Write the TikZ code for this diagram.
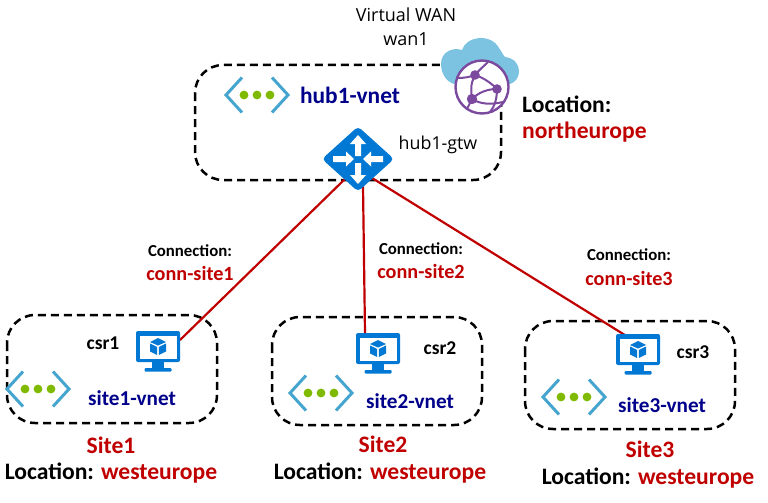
\documentclass[tikz,border=0pt]{standalone}
\usepackage{fontspec}
\setmainfont{Open Sans}
\newfontfamily\boldf{Carlito}[BoldFont=Carlito Bold]
\definecolor{azblue}{HTML}{0078D4}
\definecolor{vnetblue}{HTML}{45A5CF}
\definecolor{vnetgreen}{HTML}{7FBA00}
\definecolor{cloudblue}{HTML}{7CC3E2}
\definecolor{globepurple}{HTML}{7B4A9E}
\definecolor{navy}{HTML}{00008B}
\definecolor{redtxt}{HTML}{C00000}
\tikzset{
  region/.style={draw=black,line width=2.5pt,dash pattern=on 8pt off 5pt,rounded corners=28pt},
  conn/.style={draw=redtxt,line width=2.2pt},
  wanlab/.style={inner sep=0pt,font=\fontsize{18}{24}\selectfont,align=center,text=black},
  gtwlab/.style={inner sep=0pt,font=\fontsize{17.8}{20}\selectfont,text=black},
  vnetlab/.style={inner sep=0pt,text=navy,font=\boldf\bfseries\fontsize{21.2}{24}\selectfont},
  hublab/.style={inner sep=0pt,text=navy,font=\boldf\bfseries\fontsize{23.4}{26}\selectfont},
  csrlab/.style={inner sep=0pt,text=black,font=\boldf\bfseries\fontsize{19.5}{22}\selectfont},
  conA/.style={inner sep=0pt,text=black,font=\boldf\bfseries\fontsize{16.8}{20}\selectfont},
  conB/.style={inner sep=0pt,text=redtxt,font=\boldf\bfseries\fontsize{20.2}{24}\selectfont},
  big/.style={inner sep=0pt,font=\boldf\bfseries\fontsize{23.6}{28}\selectfont},
  anchorpt/.style={inner sep=0pt,minimum size=#1,shape=rectangle}
}
\newcommand{\vnetico}[2]{%
  \begin{scope}[shift={(#1,#2)}]
    \draw[vnetblue,line width=3pt] (-15,-17.5) -- (-31,0) -- (-15,17.5);
    \draw[vnetblue,line width=3pt] (15,-17.5) -- (31,0) -- (15,17.5);
    \fill[vnetgreen] (-13,0) circle (4.4) (0,0) circle (4.4) (13,0) circle (4.4);
  \end{scope}}
\newcommand{\monitorico}[2]{%
  \begin{scope}[shift={(#1,#2)}]
    \fill[azblue,rounded corners=2pt] (-22,-20) rectangle (22,11);
    \fill[white] (-18.5,-15.5) rectangle (18.5,7.5);
    \fill[azblue] (-6,11) rectangle (6,17);
    \fill[azblue,rounded corners=1pt] (-13.5,17) rectangle (13.5,20.5);
    \fill[azblue] (0,-13) -- (8,-9) -- (0,-5.5) -- (-8,-9) -- cycle;
    \fill[azblue] (-8,-7.5) -- (-0.8,-4) -- (-0.8,4) -- (-8,0.5) -- cycle;
    \fill[azblue] (8,-7.5) -- (0.8,-4) -- (0.8,4) -- (8,0.5) -- cycle;
  \end{scope}}
\begin{document}
\begin{tikzpicture}[x=1pt,y=-1pt]
\useasboundingbox (0,0) rectangle (768,503);
% regions
\draw[region] (195,65) rectangle (501,180);
\draw[region] (7,315) rectangle (217,423);
\draw[region] (272,317) rectangle (482,425);
\draw[region] (525,321) rectangle (735,429);
% anchors for the connectors
\node[anchorpt=1pt] (gw) at (358,159) {};
\node[anchorpt=44pt] (mon1) at (158,351) {};
\node[anchorpt=44pt] (mon2) at (378,353) {};
\node[anchorpt=44pt] (mon3) at (638,354) {};
\coordinate (gwa) at (346,178);
\coordinate (gwb) at (363,186);
\coordinate (gwc) at (372,178);
\coordinate (m1) at (180,340);
\coordinate (m2) at (365,333);
\coordinate (m3) at (628,337);
\draw[conn] (gw.center) -- (gwa) -- (m1);
\draw[conn] (gw.center) -- (gwb) -- (m2);
\draw[conn] (gw.center) -- (gwc) -- (m3);
% cloud + globe
\fill[cloudblue] (441,64) .. controls (441,52) and (452,47) .. (462,50)
  .. controls (466,36) and (491,33) .. (499,48)
  .. controls (504,55) and (503,56) .. (505,57)
  .. controls (514,58) and (519,64) .. (519,71)
  .. controls (519,80) and (512,85) .. (504,85)
  -- (460,85) .. controls (448,85) and (441,75) .. (441,64) -- cycle;
\fill[white] (482,87) circle (27);
\begin{scope}[globepurple]
  \draw[line width=2.4pt] (482,87) circle (26.5);
  \draw[line width=2pt] (475,75) .. controls (470,85) and (471,90) .. (472,99);
  \draw[line width=2pt] (475,75) .. controls (484,78) and (491,83) .. (497,89);
  \draw[line width=2pt] (472,99) .. controls (479,92) and (488,89) .. (497,89);
  \draw[line width=2pt] (497,89) .. controls (497,98) and (495,106) .. (490,112);
  \draw[line width=2pt] (472,99) .. controls (480,104) and (490,105) .. (503,102);
  \draw[line width=2pt] (458,78) .. controls (464,78) and (470,77) .. (475,75);
  \draw[line width=2pt] (475,75) .. controls (479,70) and (484,66) .. (488,62);
  \draw[line width=2pt] (472,99) -- (467,109);
  \fill (475,75) circle (4.8) (497,89) circle (4.8) (472,99) circle (5.2);
\end{scope}
% gateway
\begin{scope}[shift={(gw.center)}]
  \fill[azblue,rounded corners=4pt] (0,-32.5) -- (36,0) -- (0,32.5) -- (-36,0) -- cycle;
  \fill[white] (-3,-3) -- (-3,-15) -- (-8,-15) -- (0,-24) -- (8,-15) -- (3,-15) -- (3,-3) -- cycle;
  \fill[white] (-3,4) -- (-3,16) -- (-8,16) -- (0,25) -- (8,16) -- (3,16) -- (3,4) -- cycle;
  \fill[white] (-4,0) -- (-12,-7.5) -- (-12,-3) -- (-25,-3) -- (-25,3) -- (-12,3) -- (-12,7.5) -- cycle;
  \fill[white] (5,0) -- (13,-7.5) -- (13,-3) -- (25,-3) -- (25,3) -- (13,3) -- (13,7.5) -- cycle;
\end{scope}
% icons
\vnetico{257}{95}
\vnetico{38}{389}
\vnetico{321}{393}
\vnetico{574}{397}
\monitorico{158}{351}
\monitorico{378}{353}
\monitorico{638}{354}
% texts
\node[wanlab] (wan) at (406,26.5) {Virtual WAN\\wan1};
\node[gtwlab] (gtwname) at (438,145) {hub1-gtw};
\node[hublab] (hubname) at (350,95.5) {hub1-vnet};
\node[big,anchor=west] (loc0) at (522,104.5) {Location:};
\node[big,anchor=west,text=redtxt] (loc0b) at (522,132) {northeurope};
\node[conA] (c1a) at (190,251) {Connection:};
\node[conB] (c1b) at (190,273) {conn-site1};
\node[conA] (c2a) at (421,249) {Connection:};
\node[conB] (c2b) at (421,271) {conn-site2};
\node[conA] (c3a) at (629,255) {Connection:};
\node[conB] (c3b) at (629,278) {conn-site3};
\node[csrlab] (csr1) at (103,343) {csr1};
\node[csrlab] (csr2) at (440,348) {csr2};
\node[csrlab] (csr3) at (693,352) {csr3};
\node[vnetlab] (s1v) at (132,398) {site1-vnet};
\node[vnetlab] (s2v) at (410,401) {site2-vnet};
\node[vnetlab] (s3v) at (662,405) {site3-vnet};
\node[big,text=redtxt] (s1) at (111,445) {Site1};
\node[big,text=redtxt] (s2) at (383,444) {Site2};
\node[big,text=redtxt] (s3) at (650,449) {Site3};
\node[big] (l1) at (111,473) {Location: \textcolor{redtxt}{westeurope}};
\node[big] (l2) at (380,473) {Location: \textcolor{redtxt}{westeurope}};
\node[big] (l3) at (648,478) {Location: \textcolor{redtxt}{westeurope}};
\end{tikzpicture}
\end{document}
